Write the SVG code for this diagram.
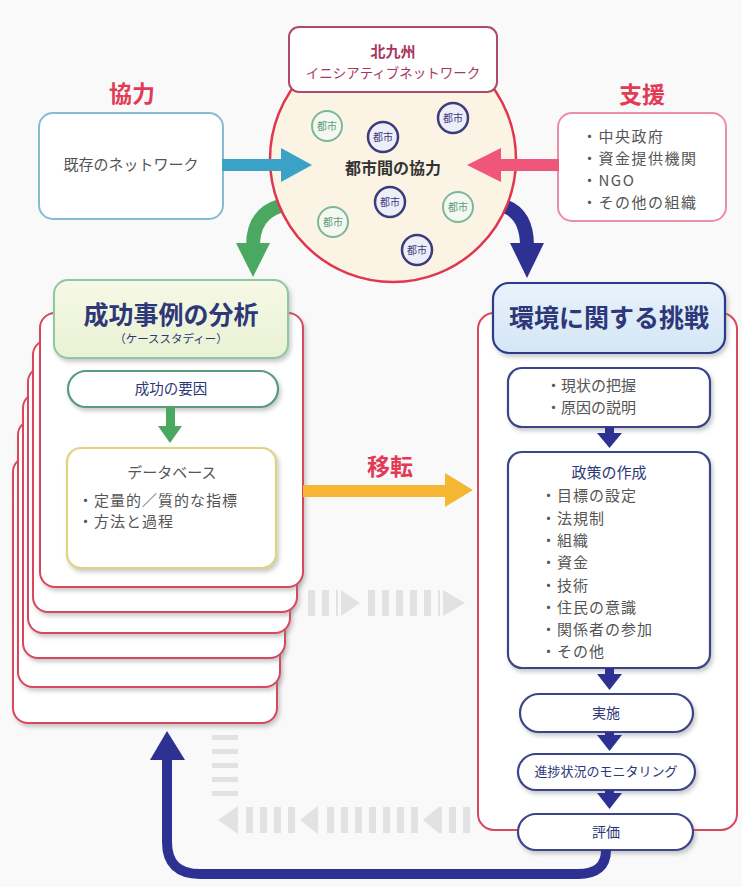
<svg xmlns="http://www.w3.org/2000/svg" width="742" height="887" viewBox="0 0 742 887">
<defs>
<filter id="sh" x="-10%" y="-10%" width="130%" height="140%">
<feDropShadow dx="2" dy="3" stdDeviation="2" flood-color="#888" flood-opacity="0.45"/>
</filter>
<linearGradient id="gHead" x1="0" y1="0" x2="0" y2="1">
<stop offset="0" stop-color="#f6f9e6"/><stop offset="1" stop-color="#e9f2d4"/>
</linearGradient>
<linearGradient id="bHead" x1="0" y1="0" x2="0" y2="1">
<stop offset="0" stop-color="#e8f2fb"/><stop offset="1" stop-color="#d4e6f5"/>
</linearGradient>
<style>
text{font-family:"Noto Sans CJK JP","Noto Sans",sans-serif}
.lbl{font-size:23px;font-weight:bold;fill:#e23b55;text-anchor:middle}
.g{fill:#555;font-size:15px}
.nv{fill:#2e3878;font-weight:bold;text-anchor:middle}
.nvn{fill:#2e3878;text-anchor:middle}
.card{fill:#fff;stroke:#d8475c;stroke-width:2}
.pill{fill:#fff;stroke:#3a4488;stroke-width:2.2}
.cg{fill:#f4f8f0;stroke:#7ab898;stroke-width:2}
.cp{fill:#eeeef8;stroke:#3c3c7c;stroke-width:2.5}
.ctg{font-size:10px;fill:#5a9a7a;text-anchor:middle}
.ctp{font-size:10px;fill:#3a3a80;text-anchor:middle}
.ghost{fill:none;stroke:#e2e2e2}
.ghf{fill:#e2e2e2}
.nav{fill:#2d3192}
</style>
</defs>
<rect width="742" height="887" fill="#f9f9f9"/>

<g id="ghost-arrows">
<line class="ghost" x1="308" y1="603" x2="338" y2="603" stroke-width="26" stroke-dasharray="7 7"/>
<polygon class="ghf" points="341,590 360,603 341,616"/>
<line class="ghost" x1="368" y1="603" x2="440" y2="603" stroke-width="26" stroke-dasharray="7 7"/>
<polygon class="ghf" points="443,590 465,603 443,616"/>
<line class="ghost" x1="225" y1="735" x2="225" y2="800" stroke-width="26" stroke-dasharray="5 9"/>
<polygon class="ghf" points="238,806 218,820 238,834"/>
<line class="ghost" x1="470" y1="820" x2="440" y2="820" stroke-width="26" stroke-dasharray="7 7"/>
<polygon class="ghf" points="440,806 423,820 440,834"/>
<line class="ghost" x1="418" y1="820" x2="320" y2="820" stroke-width="26" stroke-dasharray="7 7"/>
<polygon class="ghf" points="318,806 300,820 318,834"/>
<line class="ghost" x1="295" y1="820" x2="245" y2="820" stroke-width="26" stroke-dasharray="7 7"/>
</g>

<g id="behind-connectors">
<path d="M280 206 Q253 214 253 246" fill="none" stroke="#4aa860" stroke-width="14"/>
<polygon points="236,243 270,243 253,277" fill="#4aa860"/>
<path d="M504 206 Q527 214 527 246" fill="none" stroke="#2d3192" stroke-width="14"/>
<polygon points="510,243 544,243 527,278" fill="#2d3192"/>
</g>

<g id="network-circle">
<circle cx="393" cy="159" r="123" fill="#fbf3e4" stroke="#e0364e" stroke-width="2.5"/>
<text x="393" y="174" text-anchor="middle" font-size="16" font-weight="bold" fill="#333">都市間の協力</text>
</g>
<g id="city1"><circle class="cg" cx="327" cy="126" r="15"/><text class="ctg" x="327" y="130">都市</text></g>
<g id="city2"><circle class="cp" cx="383" cy="137" r="15"/><text class="ctp" x="383" y="141">都市</text></g>
<g id="city3"><circle class="cp" cx="453" cy="118" r="15"/><text class="ctp" x="453" y="122">都市</text></g>
<g id="city4"><circle class="cp" cx="390" cy="202" r="15"/><text class="ctp" x="390" y="206">都市</text></g>
<g id="city5"><circle class="cg" cx="458" cy="207" r="15"/><text class="ctg" x="458" y="211">都市</text></g>
<g id="city6"><circle class="cg" cx="333" cy="222" r="15"/><text class="ctg" x="333" y="226">都市</text></g>
<g id="city7"><circle class="cp" cx="417" cy="250" r="15"/><text class="ctp" x="417" y="254">都市</text></g>

<g id="kitakyushu">
<rect x="289" y="27" width="208" height="65" rx="10" fill="#fff" stroke="#b04a6a" stroke-width="2"/>
<text x="393" y="57" text-anchor="middle" font-size="15" font-weight="bold" fill="#a8365e">北九州</text>
<text x="393" y="78" text-anchor="middle" font-size="13.5" fill="#a8365e">イニシアティブネットワーク</text>
</g>

<g id="label-kyoryoku"><text class="lbl" x="132" y="102">協力</text></g>
<g id="existing-network">
<rect x="39" y="113" width="184" height="106" rx="14" fill="#fff" stroke="#84bcd2" stroke-width="2"/>
<text class="g" x="131" y="170" text-anchor="middle">既存のネットワーク</text>
</g>

<g id="label-shien"><text class="lbl" x="642" y="103">支援</text></g>
<g id="support">
<rect x="558" y="113" width="168" height="108" rx="14" fill="#fff" stroke="#ec8ea4" stroke-width="2"/>
<text class="g" x="582" y="142" letter-spacing="1.5">・中央政府</text>
<text class="g" x="582" y="164" letter-spacing="1.5">・資金提供機関</text>
<text class="g" x="582" y="186" letter-spacing="1.5">・NGO</text>
<text class="g" x="582" y="208" letter-spacing="1.5">・その他の組織</text>
</g>

<g id="case-study-stack">
<rect class="card" x="13" y="457" width="264" height="266" rx="15" filter="url(#sh)"/>
<rect class="card" x="18" y="420" width="262" height="267" rx="15" filter="url(#sh)"/>
<rect class="card" x="23" y="393" width="262" height="265" rx="15" filter="url(#sh)"/>
<rect class="card" x="28" y="367" width="262" height="266" rx="15" filter="url(#sh)"/>
<rect class="card" x="33" y="340" width="264" height="272" rx="15" filter="url(#sh)"/>
<rect class="card" x="40" y="313" width="263" height="274" rx="15" filter="url(#sh)"/>
</g>
<g id="case-study-header">
<rect x="54" y="280" width="234" height="78" rx="14" fill="url(#gHead)" stroke="#8cc8a0" stroke-width="2" filter="url(#sh)"/>
<text class="nv" x="171" y="324" font-size="25">成功事例の分析</text>
<text class="nvn" x="171" y="343" font-size="11.5">（ケーススタディー）</text>
</g>
<g id="success-factors">
<rect x="68" y="371" width="210" height="36" rx="18" fill="#fff" stroke="#5a9a80" stroke-width="2.2" filter="url(#sh)"/>
<text class="nvn" x="171" y="394" font-size="14.5">成功の要因</text>
</g>
<g id="database">
<rect x="67" y="448" width="209" height="120" rx="14" fill="#fff" stroke="#e2d384" stroke-width="2.2" filter="url(#sh)"/>
<text class="g" x="172" y="478" text-anchor="middle">データベース</text>
<text class="g" x="78" y="506" font-size="15.5" letter-spacing="1">・定量的／質的な指標</text>
<text class="g" x="78" y="527" font-size="15.5" letter-spacing="1">・方法と過程</text>
</g>

<g id="challenge-frame">
<rect x="478" y="313" width="259" height="517" rx="16" fill="#fff" stroke="#d8475c" stroke-width="2"/>
</g>
<g id="challenge-header">
<rect x="493" y="283" width="232" height="70" rx="16" fill="url(#bHead)" stroke="#2c3a8a" stroke-width="2.2" filter="url(#sh)"/>
<text class="nv" x="609" y="327" font-size="25">環境に関する挑戦</text>
</g>
<g id="situation">
<rect class="pill" x="508" y="368" width="202" height="59" rx="14" filter="url(#sh)"/>
<text class="g" x="546" y="391" font-size="15">・現状の把握</text>
<text class="g" x="546" y="413" font-size="15">・原因の説明</text>
</g>
<g id="policy">
<rect class="pill" x="508" y="452" width="202" height="216" rx="14" filter="url(#sh)"/>
<text class="nvn" x="609" y="478" font-size="15">政策の作成</text>
<text class="g" x="541" y="501" letter-spacing="1">・目標の設定</text>
<text class="g" x="541" y="524" letter-spacing="1">・法規制</text>
<text class="g" x="541" y="546" letter-spacing="1">・組織</text>
<text class="g" x="541" y="568" letter-spacing="1">・資金</text>
<text class="g" x="541" y="591" letter-spacing="1">・技術</text>
<text class="g" x="541" y="613" letter-spacing="1">・住民の意識</text>
<text class="g" x="541" y="635" letter-spacing="1">・関係者の参加</text>
<text class="g" x="541" y="657" letter-spacing="1">・その他</text>
</g>
<g id="implementation">
<rect class="pill" x="520" y="694" width="173" height="38" rx="19" filter="url(#sh)"/>
<text class="nvn" x="606" y="718" font-size="14">実施</text>
</g>
<g id="monitoring">
<rect class="pill" x="518" y="754" width="177" height="36" rx="18" filter="url(#sh)"/>
<text class="nvn" x="606" y="776" font-size="13">進捗状況のモニタリング</text>
</g>
<g id="evaluation">
<rect class="pill" x="518" y="814" width="175" height="36" rx="18" filter="url(#sh)"/>
<text class="nvn" x="606" y="837" font-size="14">評価</text>
</g>

<g id="connectors">
<rect x="222" y="159" width="62" height="12" fill="#3aa2c6"/>
<polygon points="281,148 312,165 281,182" fill="#3aa2c6"/>
<rect x="498" y="159" width="61" height="12" fill="#f0557a"/>
<polygon points="501,148 467,165 501,182" fill="#f0557a"/>
<rect x="166" y="407" width="9" height="21" fill="#4aa860"/>
<polygon points="158,426 182,426 170,443" fill="#4aa860"/>
<rect x="303" y="485" width="145" height="12" fill="#f5b733"/>
<polygon points="445,473 473,490 445,507" fill="#f5b733"/>
<g class="nav">
<rect x="605" y="427" width="9" height="8"/><polygon points="597,433 622,433 609.5,448"/>
<rect x="605" y="668" width="9" height="8"/><polygon points="597,674 622,674 609.5,690"/>
<rect x="605" y="732" width="9" height="5"/><polygon points="597,735 622,735 609.5,751"/>
<rect x="605" y="790" width="9" height="5"/><polygon points="597,793 622,793 609.5,809"/>
</g>
<path d="M606 850 Q606 874 578 874 L200 874 Q167 874 167 842 L167 758" fill="none" stroke="#2d3192" stroke-width="10"/>
<polygon points="150,760 185,760 167,731" fill="#2d3192"/>
</g>
<g id="label-iten"><text class="lbl" x="390" y="475">移転</text></g>
</svg>
